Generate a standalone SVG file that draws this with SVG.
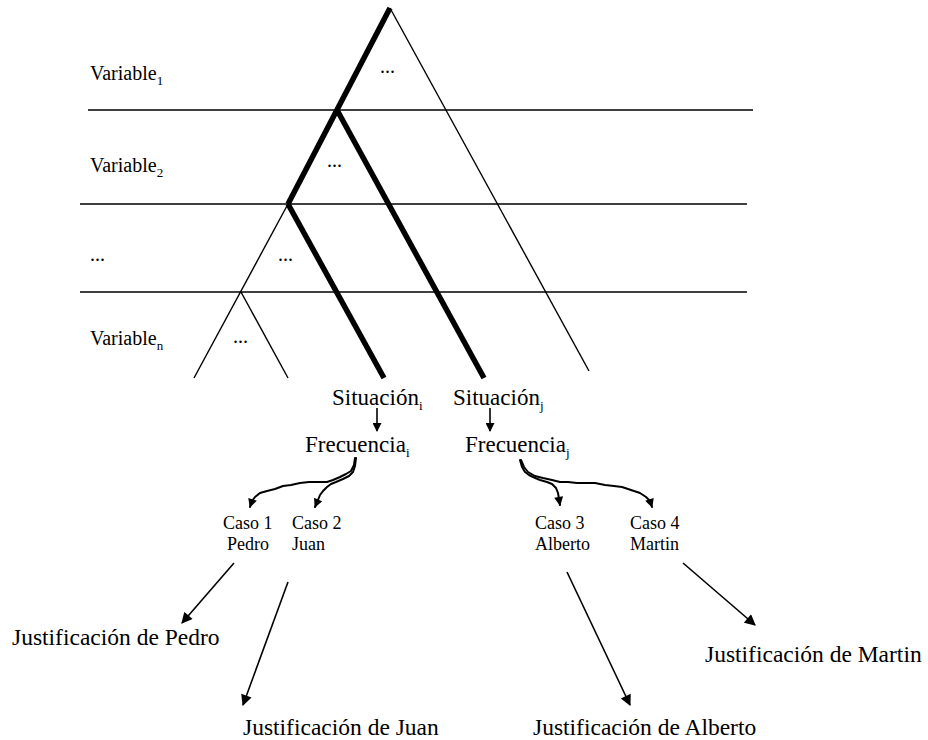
<svg xmlns="http://www.w3.org/2000/svg" width="928" height="740" viewBox="0 0 928 740">
<defs>
<style>
.t{font-family:"Liberation Serif","Times New Roman",serif;fill:#000}
.v{font-size:20px}
.sub{font-size:13px}
.s{font-size:23px}
.c{font-size:18px}
.j{font-size:23.5px}
.h{stroke:#000;stroke-width:1.6;fill:none}
.thin{stroke:#000;stroke-width:1.4;fill:none}
.thick{stroke:#000;stroke-width:5.5;fill:none}
.arr{stroke:#000;stroke-width:1.6;fill:none}
.wavy{stroke:#000;stroke-width:2;fill:none;stroke-linejoin:round;stroke-linecap:round}
</style>
<marker id="ah" viewBox="0 0 10 10" refX="9" refY="5" markerWidth="10" markerHeight="9" markerUnits="userSpaceOnUse" orient="auto"><path d="M0,0 L10,5 L0,10 z" fill="#000"/></marker>
<marker id="ahL" viewBox="0 0 10 10" refX="9" refY="5" markerWidth="13" markerHeight="11" markerUnits="userSpaceOnUse" orient="auto"><path d="M0,0 L10,5 L0,10 z" fill="#000"/></marker>
</defs>
<rect width="928" height="740" fill="#fff"/>

<g id="levels">
<line class="h" x1="88" y1="110" x2="753" y2="110"/>
<line class="h" x1="80" y1="204" x2="747" y2="204"/>
<line class="h" x1="80" y1="292" x2="747" y2="292"/>
</g>

<g id="tree">
<line class="thin" x1="390" y1="8" x2="589" y2="371"/>
<line class="thick" x1="390" y1="8" x2="288" y2="204"/>
<line class="thick" x1="337" y1="110" x2="484" y2="378"/>
<line class="thick" x1="288" y1="204" x2="384" y2="378"/>
<line class="thin" x1="288" y1="204" x2="194" y2="378"/>
<line class="thin" x1="241" y1="292" x2="288" y2="378"/>
<text class="t v" x="380" y="73">...</text>
<text class="t v" x="327" y="167">...</text>
<text class="t v" x="278" y="261">...</text>
<text class="t v" x="233" y="343">...</text>
</g>

<g id="labels">
<text class="t v" x="90" y="80">Variable<tspan class="sub" dy="5">1</tspan></text>
<text class="t v" x="90" y="172">Variable<tspan class="sub" dy="5">2</tspan></text>
<text class="t v" x="90" y="261">...</text>
<text class="t v" x="90" y="345">Variable<tspan class="sub" dy="5">n</tspan></text>
</g>

<g id="situacion-i"><text class="t s" x="332" y="405">Situación<tspan class="sub" dy="5">i</tspan></text></g>
<g id="situacion-j"><text class="t s" x="453" y="405">Situación<tspan class="sub" dy="5">j</tspan></text></g>
<g id="frecuencia-i"><text class="t s" x="305" y="452">Frecuencia<tspan class="sub" dy="5">i</tspan></text></g>
<g id="frecuencia-j"><text class="t s" x="465" y="452">Frecuencia<tspan class="sub" dy="5">j</tspan></text></g>

<g id="caso1"><text class="t c" x="223" y="529">Caso 1</text><text class="t c" x="227" y="550">Pedro</text></g>
<g id="caso2"><text class="t c" x="292" y="529">Caso 2</text><text class="t c" x="292" y="550">Juan</text></g>
<g id="caso3"><text class="t c" x="535" y="529">Caso 3</text><text class="t c" x="535" y="550">Alberto</text></g>
<g id="caso4"><text class="t c" x="630" y="529">Caso 4</text><text class="t c" x="630" y="550">Martin</text></g>

<g id="just-pedro"><text class="t j" x="12" y="645">Justificación de Pedro</text></g>
<g id="just-juan"><text class="t j" x="243" y="735">Justificación de Juan</text></g>
<g id="just-alberto"><text class="t j" x="533" y="735">Justificación de Alberto</text></g>
<g id="just-martin"><text class="t j" x="705" y="662">Justificación de Martin</text></g>

<g id="connectors">
<line class="arr" x1="377" y1="408" x2="377" y2="431" marker-end="url(#ah)"/>
<line class="arr" x1="490" y1="408" x2="490" y2="431" marker-end="url(#ah)"/>
<path class="wavy" d="M355,458 L354,465 L351,471 L346,474 L340,477 L333,480 L327,482 L318,482 L309,482 L300,483 L291,485 L283,486 L275,489 L267,491 L260,493 L255,497 L252,501 L250,507" marker-end="url(#ah)"/>
<path class="wavy" d="M356,458 L355,466 L353,472 L349,476 L343,479 L336,482 L331,484 L327,487 L323,491 L320,495 L318,500 L315,507" marker-end="url(#ah)"/>
<path class="wavy" d="M520,460 L522,467 L525,472 L529,475 L533,477 L540,480 L547,482 L552,484 L556,488 L558,493 L559,499 L560,505" marker-end="url(#ah)"/>
<path class="wavy" d="M521,460 L524,467 L528,472 L535,476 L543,478 L552,480 L560,482 L568,482 L577,483 L586,483 L595,483 L605,485 L614,486 L622,487 L631,490 L640,493 L646,497 L650,501 L652,507" marker-end="url(#ah)"/>
<line class="arr" x1="234" y1="563" x2="182" y2="623" marker-end="url(#ahL)"/>
<line class="arr" x1="288" y1="582" x2="243" y2="705" marker-end="url(#ahL)"/>
<line class="arr" x1="567" y1="572" x2="630" y2="705" marker-end="url(#ahL)"/>
<line class="arr" x1="683" y1="563" x2="755" y2="625" marker-end="url(#ahL)"/>
</g>
</svg>
